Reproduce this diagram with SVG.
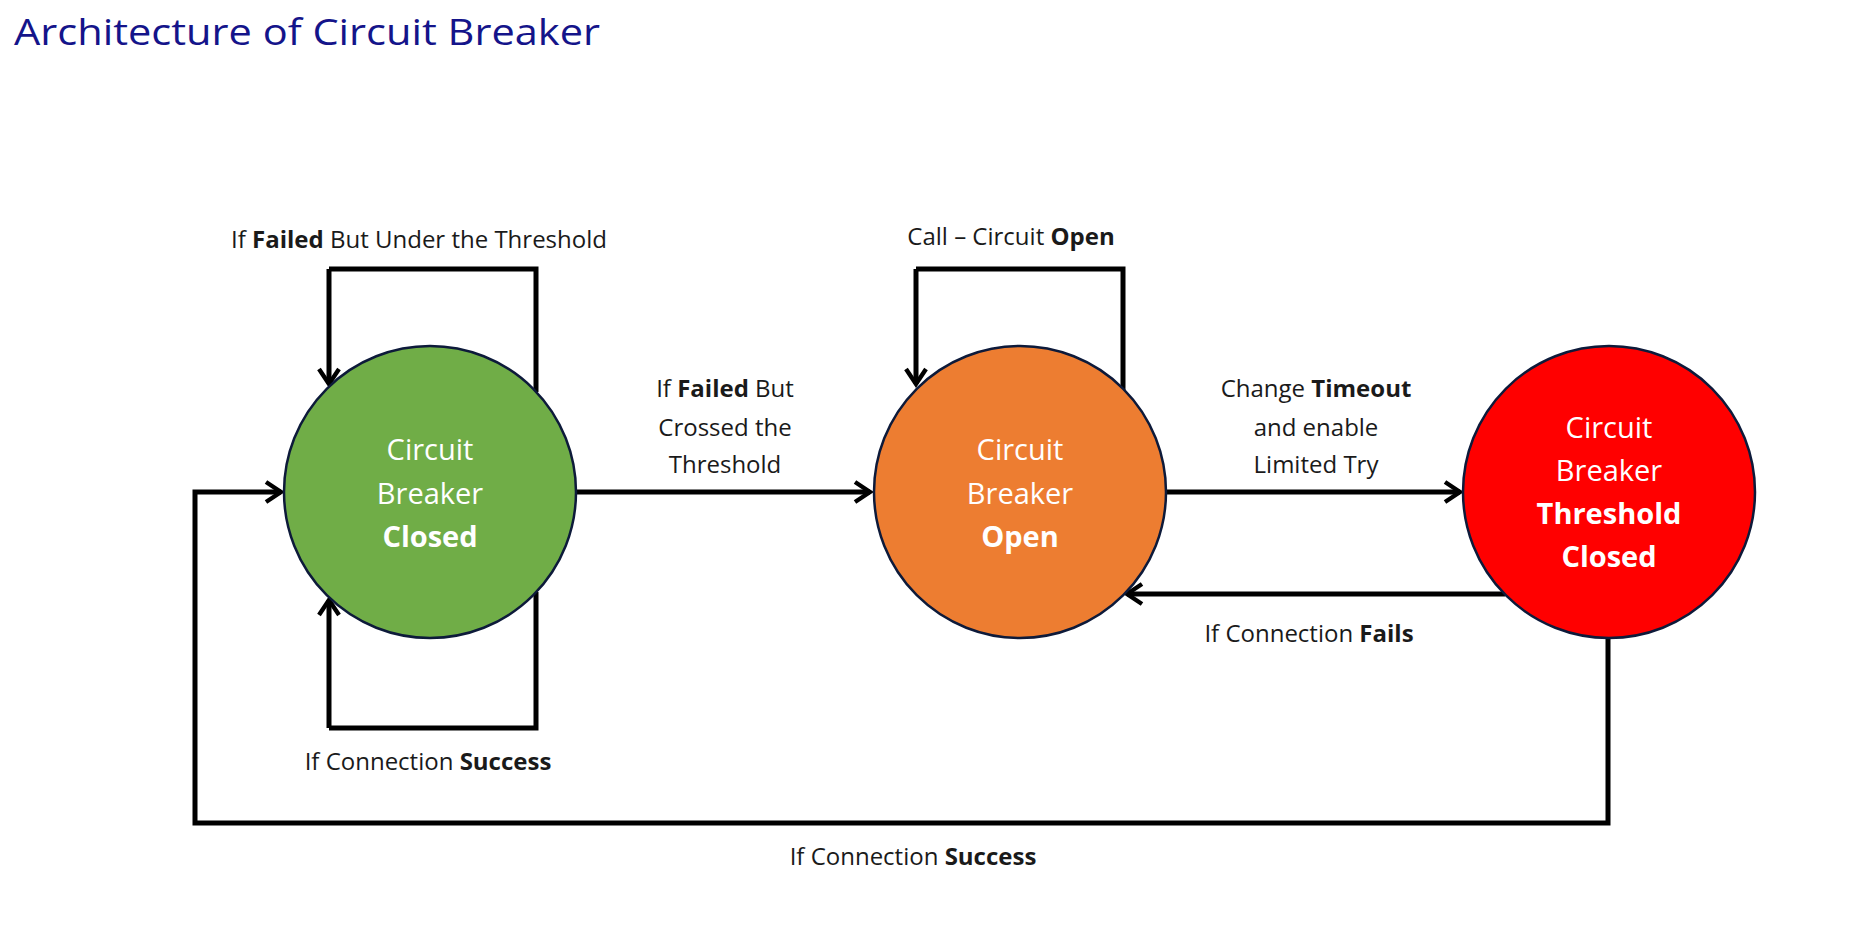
<svg xmlns="http://www.w3.org/2000/svg" width="1851" height="925" viewBox="0 0 1851 925">
<style>
.l{font-family:"Open Sans","Liberation Sans",sans-serif;font-size:24px;fill:#1a1a1a;text-anchor:middle}
.n{font-family:"Open Sans","Liberation Sans",sans-serif;font-size:29px;fill:#fff;text-anchor:middle}
.b{font-weight:bold}
.c{stroke:#0d1a3a;stroke-width:2.5}
.w{fill:none;stroke:#000;stroke-width:5;marker-end:url(#a)}
.p{fill:none;stroke:#000;stroke-width:5}
</style>
<defs>
<marker id="a" viewBox="0 0 20 20" refX="17" refY="10" markerWidth="5" markerHeight="5" markerUnits="strokeWidth" orient="auto">
<polyline points="5,2 17,10 5,18" fill="none" stroke="#000" stroke-width="3.5"/>
</marker>
</defs>
<rect width="1851" height="925" fill="#fff"/>
<text x="14" y="45" font-family="'Open Sans','Liberation Sans',sans-serif" font-size="36" fill="#14148a" textLength="586" lengthAdjust="spacingAndGlyphs">Architecture of Circuit Breaker</text>
<g id="connectors">
<path class="p" d="M536,392 V269 H329"/>
<path class="w" d="M329,269 V384"/>
<path class="p" d="M536,592 V728 H329"/>
<path class="w" d="M329,728 V600"/>
<path class="p" d="M1123,392 V269 H916"/>
<path class="w" d="M916,269 V384"/>
<path class="w" d="M576,492 H870"/>
<path class="w" d="M1166,492 H1460"/>
<path class="w" d="M1505,594 H1127"/>
<path class="w" d="M1608,638 V823 H195 V492 H281"/>
</g>
<g id="closed">
<circle class="c" cx="430" cy="492" r="146" fill="#70ad47"/>
<text class="n" x="430" y="460">Circuit</text>
<text class="n" x="430" y="504">Breaker</text>
<text class="n b" x="430" y="547">Closed</text>
</g>
<g id="open">
<circle class="c" cx="1020" cy="492" r="146" fill="#ed7d31"/>
<text class="n" x="1020" y="460">Circuit</text>
<text class="n" x="1020" y="504">Breaker</text>
<text class="n b" x="1020" y="547">Open</text>
</g>
<g id="threshold">
<circle class="c" cx="1609" cy="492" r="146" fill="#ff0000"/>
<text class="n" x="1609" y="438">Circuit</text>
<text class="n" x="1609" y="481">Breaker</text>
<text class="n b" x="1609" y="524">Threshold</text>
<text class="n b" x="1609" y="567">Closed</text>
</g>
<g id="labels">
<text class="l" x="419" y="248">If <tspan class="b">Failed</tspan> But Under the Threshold</text>
<text class="l" x="1011" y="245">Call – Circuit <tspan class="b">Open</tspan></text>
<text class="l" x="725" y="397">If <tspan class="b">Failed</tspan> But</text>
<text class="l" x="725" y="436">Crossed the</text>
<text class="l" x="725" y="473">Threshold</text>
<text class="l" x="1316" y="397">Change <tspan class="b">Timeout</tspan></text>
<text class="l" x="1316" y="436">and enable</text>
<text class="l" x="1316" y="473">Limited Try</text>
<text class="l" x="1309" y="642">If Connection <tspan class="b">Fails</tspan></text>
<text class="l" x="428" y="770">If Connection <tspan class="b">Success</tspan></text>
<text class="l" x="913" y="865">If Connection <tspan class="b">Success</tspan></text>
</g>
</svg>
